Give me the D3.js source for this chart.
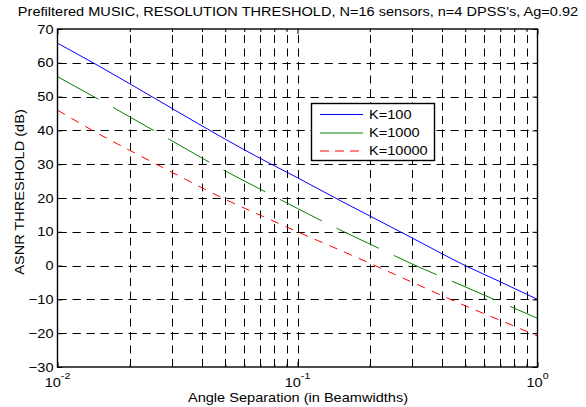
<!DOCTYPE html>
<html><head><meta charset="utf-8">
<script src="https://cdn.jsdelivr.net/npm/d3@7"></script>
<style>
body{margin:0;background:#fff;}
text{font-family:"Liberation Sans",Arial,sans-serif;fill:#000;}
</style></head>
<body>
<svg id="c" width="586" height="407"></svg>
<script>
// ---- data ----
const angleSep = [0.01,0.015,0.02,0.03,0.05,0.07,0.1,0.15,0.2,0.3,0.5,0.7,1.0];
const k100   = [65.8,58.9,53.8,46.5,37.4,31.7,26.0,19.3,14.7,8.2,0.0,-4.8,-10.0];
const k1000  = [55.9,49.0,44.0,36.9,28.0,22.6,16.9,10.6,6.4,0.5,-6.3,-10.8,-15.6];
const k10000 = [46.0,38.8,34.1,27.6,19.6,14.9,10.0,4.6,0.7,-4.9,-11.9,-16.2,-20.8];
const seriesNames = ["K=100","K=1000","K=10000"];
const yTicks = [-30,-20,-10,0,10,20,30,40,50,60,70];
const xMajor = [0.01,0.1,1];
const xMajorExp = ["-2","-1","0"];
const xMinor = [0.02,0.03,0.04,0.05,0.06,0.07,0.08,0.09,0.2,0.3,0.4,0.5,0.6,0.7,0.8,0.9];
const titleText = "Prefiltered MUSIC, RESOLUTION THRESHOLD, N=16 sensors, n=4 DPSS's, Ag=0.92";
const xLabel = "Angle Separation (in Beamwidths)";
const yLabel = "ASNR THRESHOLD (dB)";

// ---- layout ----
const L = 57.5, R = 537.5, T = 29, B = 367;
const SX = 1.12; // horizontal text stretch
const svg = d3.select("#c");
const x = d3.scaleLog().domain([0.01,1]).range([L,R]);
const y = d3.scaleLinear().domain([-30,70]).range([B,T]);

// grid
const grid = svg.append("g");
grid.selectAll("line.vg").data(xMinor.concat([0.1])).join("line")
  .attr("x1",d=>Math.round(x(d))+0.5).attr("x2",d=>Math.round(x(d))+0.5)
  .attr("y1",B).attr("y2",T)
  .attr("stroke","#000").attr("stroke-width",1).attr("stroke-dasharray","8,5.5");
grid.selectAll("line.hg").data(yTicks.filter(d=>d>-30&&d<70)).join("line")
  .attr("y1",d=>Math.round(y(d))+0.5).attr("y2",d=>Math.round(y(d))+0.5)
  .attr("x1",L).attr("x2",R)
  .attr("stroke","#000").attr("stroke-width",1).attr("stroke-dasharray","8.3,5.7").attr("stroke-dashoffset",-1);

// clip
svg.append("clipPath").attr("id","clip").append("rect").attr("x",L).attr("y",T).attr("width",R-L).attr("height",B-T);

const line = d3.line().x((d,i)=>x(angleSep[i])).y(d=>y(d)).curve(d3.curveMonotoneX);
const styles = [
  {data:k100,color:"#0000ff",dash:null},
  {data:k1000,color:"#008000",dash:"47,16.5"},
  {data:k10000,color:"#ff0000",dash:"8.5,7.5"}
];
const plot = svg.append("g").attr("clip-path","url(#clip)");
styles.forEach(s=>{
  plot.append("path").attr("d",line(s.data)).attr("fill","none")
    .attr("stroke",s.color).attr("stroke-width",1)
    .attr("stroke-dasharray",s.dash);
});

// axes box
svg.append("rect").attr("x",L).attr("y",T).attr("width",R-L).attr("height",B-T)
  .attr("fill","none").attr("stroke","#000").attr("stroke-width",1.4);

// y axis left (labels + inward ticks)
const yAxisL = svg.append("g").attr("transform",`translate(${L},0)`)
  .call(d3.axisLeft(y).tickValues(yTicks).tickSize(-5).tickPadding(4).tickFormat(d3.format("d")));
yAxisL.select(".domain").remove();
yAxisL.selectAll("text").attr("font-size",13).attr("font-family","Liberation Sans, Arial, sans-serif")
  .each(function(){const t=d3.select(this);const xx=+t.attr("x");t.attr("transform",`translate(${xx},0) scale(${SX},1)`).attr("x",0);});
yAxisL.selectAll("line").attr("stroke","#000");
const yAxisR = svg.append("g").attr("transform",`translate(${R},0)`)
  .call(d3.axisRight(y).tickValues(yTicks).tickSize(-5).tickFormat(""));
yAxisR.select(".domain").remove();

// x axis bottom/top ticks
const xAxB = svg.append("g").attr("transform",`translate(0,${B})`)
  .call(d3.axisBottom(x).tickValues(xMajor).tickSize(-5).tickFormat(""));
xAxB.select(".domain").remove();
svg.append("g").attr("transform",`translate(0,${B})`)
  .call(d3.axisBottom(x).tickValues(xMinor).tickSize(-3).tickFormat("")).select(".domain").remove();
svg.append("g").attr("transform",`translate(0,${T})`)
  .call(d3.axisTop(x).tickValues(xMajor).tickSize(-5).tickFormat("")).select(".domain").remove();
svg.append("g").attr("transform",`translate(0,${T})`)
  .call(d3.axisTop(x).tickValues(xMinor).tickSize(-3).tickFormat("")).select(".domain").remove();

// x tick labels 10^n
xMajor.forEach((v,i)=>{
  const g = svg.append("g").attr("transform",`translate(${x(v)},387) scale(${SX},1)`);
  const t = g.append("text").attr("font-size",13);
  t.append("tspan").text("10");
  t.append("tspan").attr("font-size",9.5).attr("dy",-8).text(xMajorExp[i]);
  const w = t.node().getComputedTextLength();
  t.attr("x",-w/2);
});

// labels
svg.append("text").attr("transform",`translate(298,16) scale(${SX},1)`).attr("text-anchor","middle")
  .attr("font-size",13).text(titleText);
svg.append("text").attr("transform",`translate(298,402) scale(${SX},1)`).attr("text-anchor","middle")
  .attr("font-size",13).text(xLabel);
svg.append("text").attr("transform",`translate(24,192) rotate(-90) scale(${SX},1)`).attr("text-anchor","middle")
  .attr("font-size",13).text(yLabel);

// legend
const lg = svg.append("g");
lg.append("rect").attr("x",311.5).attr("y",103.5).attr("width",123).attr("height",57)
  .attr("fill","#fff").attr("stroke","#000").attr("stroke-width",1.4);
const rowY = [114,132.5,150.5];
styles.forEach((s,i)=>{
  lg.append("line").attr("x1",320).attr("x2",363).attr("y1",rowY[i]+0.5).attr("y2",rowY[i]+0.5)
    .attr("stroke",s.color).attr("stroke-width",1)
    .attr("stroke-dasharray",i===2?"9,6":null);
  lg.append("text").attr("transform",`translate(369,${rowY[i]+4.5}) scale(${SX},1)`)
    .attr("font-size",13).text(seriesNames[i]);
});
</script>
</body></html>
